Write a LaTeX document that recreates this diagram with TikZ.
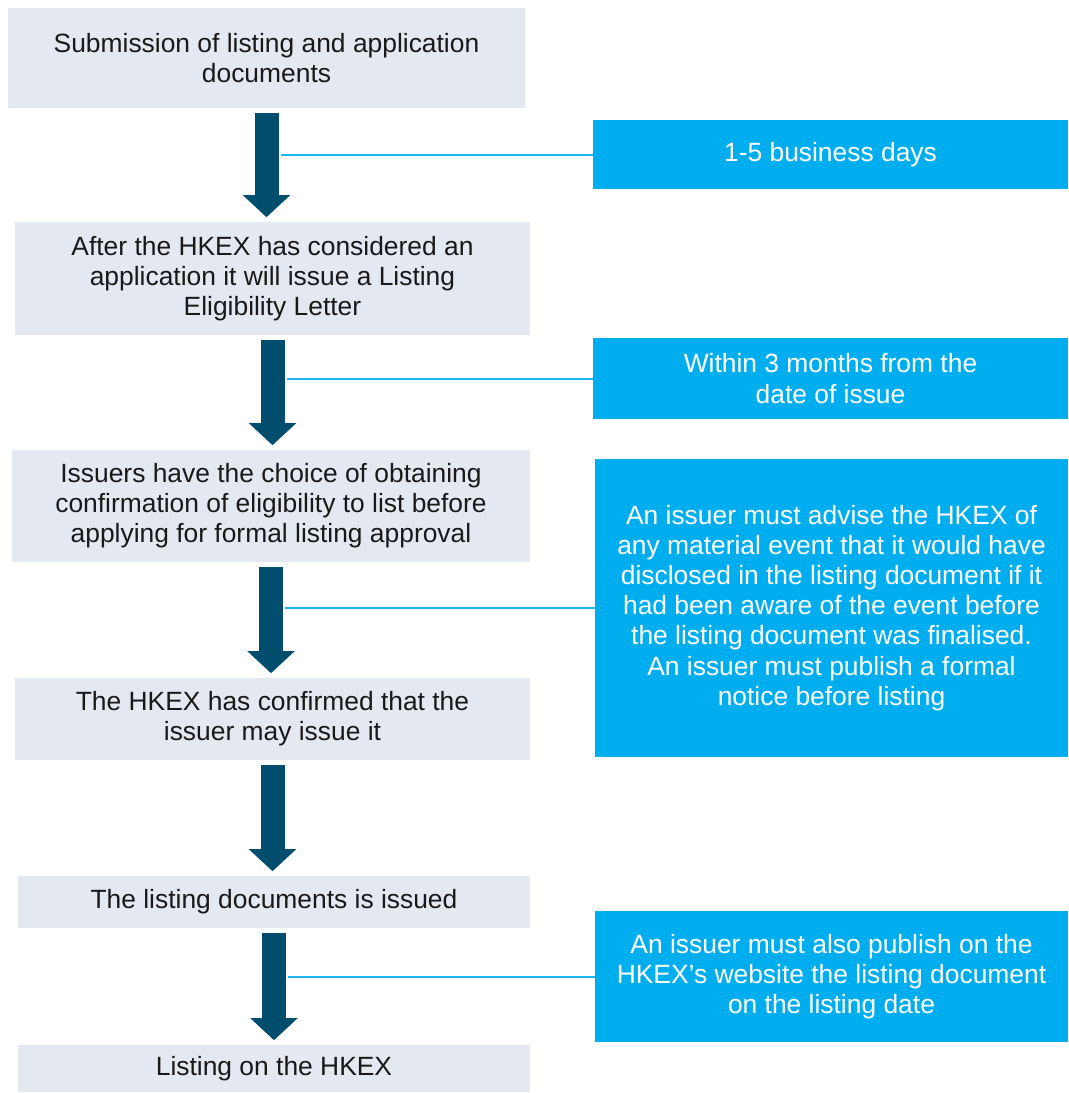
\documentclass[tikz,border=0pt]{standalone}
\usepackage{fontspec}
\setmainfont{Liberation Sans}
\usetikzlibrary{arrows.meta,positioning,calc}
\definecolor{stagegray}{HTML}{E4E8F1}
\definecolor{flowblue}{HTML}{004D6E}
\definecolor{notecyan}{HTML}{00AEEF}
\definecolor{tiecyan}{HTML}{1EB4EC}
\begin{document}
\begin{tikzpicture}[x=0.75pt,y=-0.75pt,
  stage/.style={fill=stagegray,text=black!90,inner sep=0pt,align=center,font=\fontsize{19.8}{22.6}\selectfont},
  note/.style={fill=notecyan,text=white,inner sep=0pt,align=center,font=\fontsize{19.8}{22.6}\selectfont},
  flow/.style={draw=flowblue,line width=18pt,shorten <=3.4pt,shorten >=3.4pt,-{Triangle[width=34.5pt,length=16.5pt]}},
  tie/.style={draw=tiecyan,line width=1.5pt,shorten >=10.5pt}]
\useasboundingbox (0,0) rectangle (1068,1093);
\node[stage,minimum width=517*0.75pt,minimum height=100*0.75pt] (b1) at (266.5,58) {Submission of listing and application\\documents};
\node[stage,minimum width=515*0.75pt,minimum height=113*0.75pt] (b2) at (272.5,278.5) {After the HKEX has considered an\\application it will issue a Listing\\Eligibility Letter};
\node[stage,minimum width=518*0.75pt,minimum height=112*0.75pt] (b3) at (271,506) {Issuers have the choice of obtaining\\confirmation of eligibility to list before\\applying for formal listing approval};
\node[stage,minimum width=515*0.75pt,minimum height=82*0.75pt] (b4) at (272.5,719) {The HKEX has confirmed that the\\issuer may issue it};
\node[stage,minimum width=512*0.75pt,minimum height=52*0.75pt] (b5) at (274,902) {The listing documents is issued};
\node[stage,minimum width=512*0.75pt,minimum height=47*0.75pt] (b6) at (274,1068.5) {Listing on the HKEX};
\node[note,minimum width=475*0.75pt,minimum height=69*0.75pt] (d1) at (830.5,154.5) {1-5 business days};
\node[note,minimum width=475*0.75pt,minimum height=81*0.75pt] (d2) at (830.5,378.5) {Within 3 months from the\\date of issue};
\node[note,minimum width=473*0.75pt,minimum height=298*0.75pt] (d3) at (831.5,608) {An issuer must advise the HKEX of\\any material event that it would have\\disclosed in the listing document if it\\had been aware of the event before\\the listing document was finalised.\\An issuer must publish a formal\\notice before listing};
\node[note,minimum width=473*0.75pt,minimum height=131*0.75pt] (d4) at (831.5,976.5) {An issuer must also publish on the\\HKEX’s website the listing document\\on the listing date};
\draw[flow] (b1.south) -- (b1.south |- b2.north);
\draw[flow] (b2.south) -- (b2.south |- b3.north);
\draw[flow] (b3.south) -- (b3.south |- b4.north);
\draw[flow] (b4.south) -- (b4.south |- b5.north);
\draw[flow] (b5.south) -- (b5.south |- b6.north);
\draw[tie] (d1.west) -- (d1.west -| b1.south);
\draw[tie] (d2.west) -- (d2.west -| b2.south);
\draw[tie] (d3.west) -- (d3.west -| b3.south);
\draw[tie] (d4.west) -- (d4.west -| b5.south);
\end{tikzpicture}
\end{document}
